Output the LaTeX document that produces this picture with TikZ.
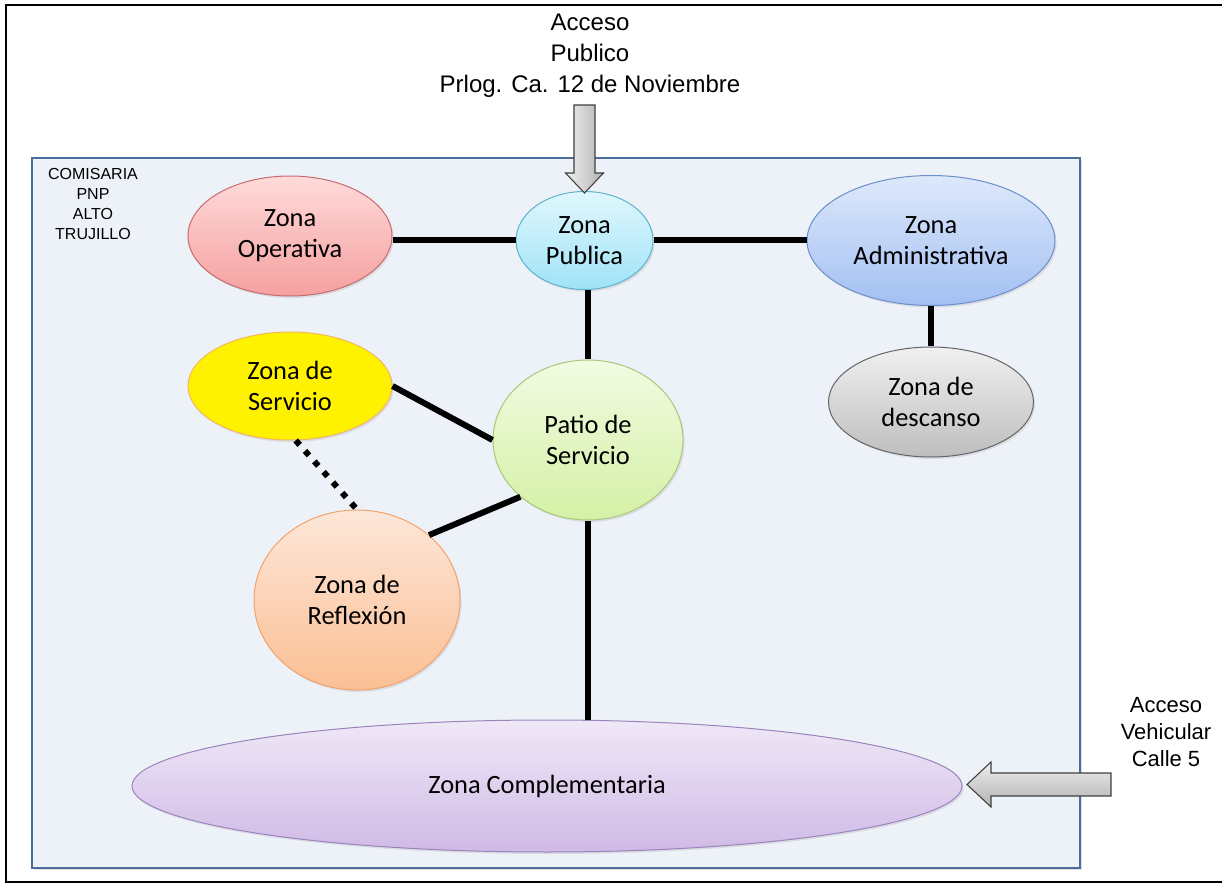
\documentclass[tikz,border=0pt]{standalone}
\usepackage{fontspec}
\setmainfont{Carlito}
\newfontfamily\arialf{Liberation Sans}
\usetikzlibrary{shapes.geometric,shadows}
\definecolor{boxfill}{HTML}{EDF1F8}
\definecolor{boxline}{HTML}{4A6D9C}
\begin{document}
\begin{tikzpicture}[x=0.75pt,y=-0.75pt,
  zone/.style={ellipse, draw, line width=0.75pt, inner sep=0pt, align=center,
    font=\fontsize{19.8}{23.2}\selectfont,
    drop shadow={opacity=0.18,shadow xshift=1.2pt,shadow yshift=-1.5pt}},
  link/.style={line width=4.5pt, black},
  dotlink/.style={line width=4.5pt, black, dash pattern=on 4.5pt off 6pt},
  blockarrow/.style={draw=black!75, line width=0.8pt, line join=miter}]
\useasboundingbox (0,0) rectangle (1222,884);
\begin{scope}
\clip (0,0) rectangle (1222,884);
\fill[white] (0,0) rectangle (1222,884);
% outer frame
\draw[line width=1.9pt, black] (6,5) rectangle (1260,882);
% inner box
\draw[boxline, fill=boxfill, line width=1.6pt,
  drop shadow={opacity=0.25,shadow xshift=1.2pt,shadow yshift=-1.2pt}] (32,158) rectangle (1080,868);

% labels
\node[font=\arialf\fontsize{12}{15}\selectfont, align=center] (comi) at (93,204)
  {COMISARIA\\PNP\\ALTO\\TRUJILLO};
\node[font=\arialf\fontsize{18}{23.2}\selectfont, align=center] (accpub) at (590,56)
  {Acceso\\Publico\\Prlog. Ca. 12 de Noviembre};
\node[font=\arialf\fontsize{16.5}{20}\selectfont, align=center] (accveh) at (1166,732)
  {Acceso\\Vehicular\\Calle 5};

% zones
\node[zone, minimum width=153pt, minimum height=90pt, draw=red!45!gray!80,
  top color={rgb,255:red,255;green,218;blue,218}, bottom color={rgb,255:red,245;green,160;blue,160}]
  (oper) at (290,236) {Zona\\Operativa};
\node[zone, minimum width=102.75pt, minimum height=73.5pt, draw={rgb,255:red,95;green,179;blue,204},
  top color={rgb,255:red,224;green,247;blue,253}, bottom color={rgb,255:red,159;green,227;blue,247}]
  (pub) at (584.5,240.5) {Zona\\Publica};
\node[zone, minimum width=186pt, minimum height=97.5pt, draw={rgb,255:red,106;green,143;blue,203},
  top color={rgb,255:red,221;green,232;blue,251}, bottom color={rgb,255:red,163;green,192;blue,242}]
  (admin) at (931,240.5) {Zona\\Administrativa};
\node[zone, minimum width=153.75pt, minimum height=82.5pt, draw=black!60,
  top color={rgb,255:red,240;green,240;blue,240}, bottom color={rgb,255:red,190;green,190;blue,190}]
  (desc) at (931,402) {Zona de\\descanso};
\node[zone, minimum width=153pt, minimum height=81pt, draw={rgb,255:red,242;green,183;blue,94},
  fill=yellow]
  (serv) at (290,386) {Zona de\\Servicio};
\node[zone, minimum width=142.5pt, minimum height=120pt, draw={rgb,255:red,168;green,201;blue,122},
  top color={rgb,255:red,242;green,251;blue,226}, bottom color={rgb,255:red,212;green,240;blue,165}]
  (patio) at (588,440) {Patio de\\Servicio};
\node[zone, minimum width=154.5pt, minimum height=135pt, draw={rgb,255:red,242;green,163;blue,107},
  top color={rgb,255:red,253;green,231;blue,217}, bottom color={rgb,255:red,251;green,191;blue,148}]
  (refl) at (357,600) {Zona de\\Reflexión};
\node[zone, minimum width=622.5pt, minimum height=99pt, draw={rgb,255:red,155;green,131;blue,189},
  top color={rgb,255:red,239;green,232;blue,247}, bottom color={rgb,255:red,208;green,186;blue,230}]
  (comp) at (547,786) {Zona Complementaria};

% connectors
\draw[link] (pub.west -| oper.east) -- (pub.west);
\draw[link] (pub.east) -- (admin.west);
\draw[link] (pub.south -| patio.north) -- (patio.north);
\draw[link] (admin.south) -- (desc.north);
\draw[link] (serv.east) -- (patio.west);
\draw[link] (refl.42) -- (patio.220);
\draw[link] (patio.south) -- (patio.south |- comp.north);
\draw[dotlink] (serv.-84) -- (refl.north);

% block arrows
\draw[blockarrow, left color=black!6, right color=black!30]
  (574,105) -- (595,105) -- (595,173) -- (603.5,173) -- (584.5,193) -- (565.5,173) -- (574,173) -- cycle;
\draw[blockarrow, top color=black!7, bottom color=black!30]
  (1111,773) -- (991,773) -- (991,762) -- (967,784.5) -- (991,807) -- (991,796) -- (1111,796) -- cycle;
\end{scope}
\end{tikzpicture}
\end{document}
